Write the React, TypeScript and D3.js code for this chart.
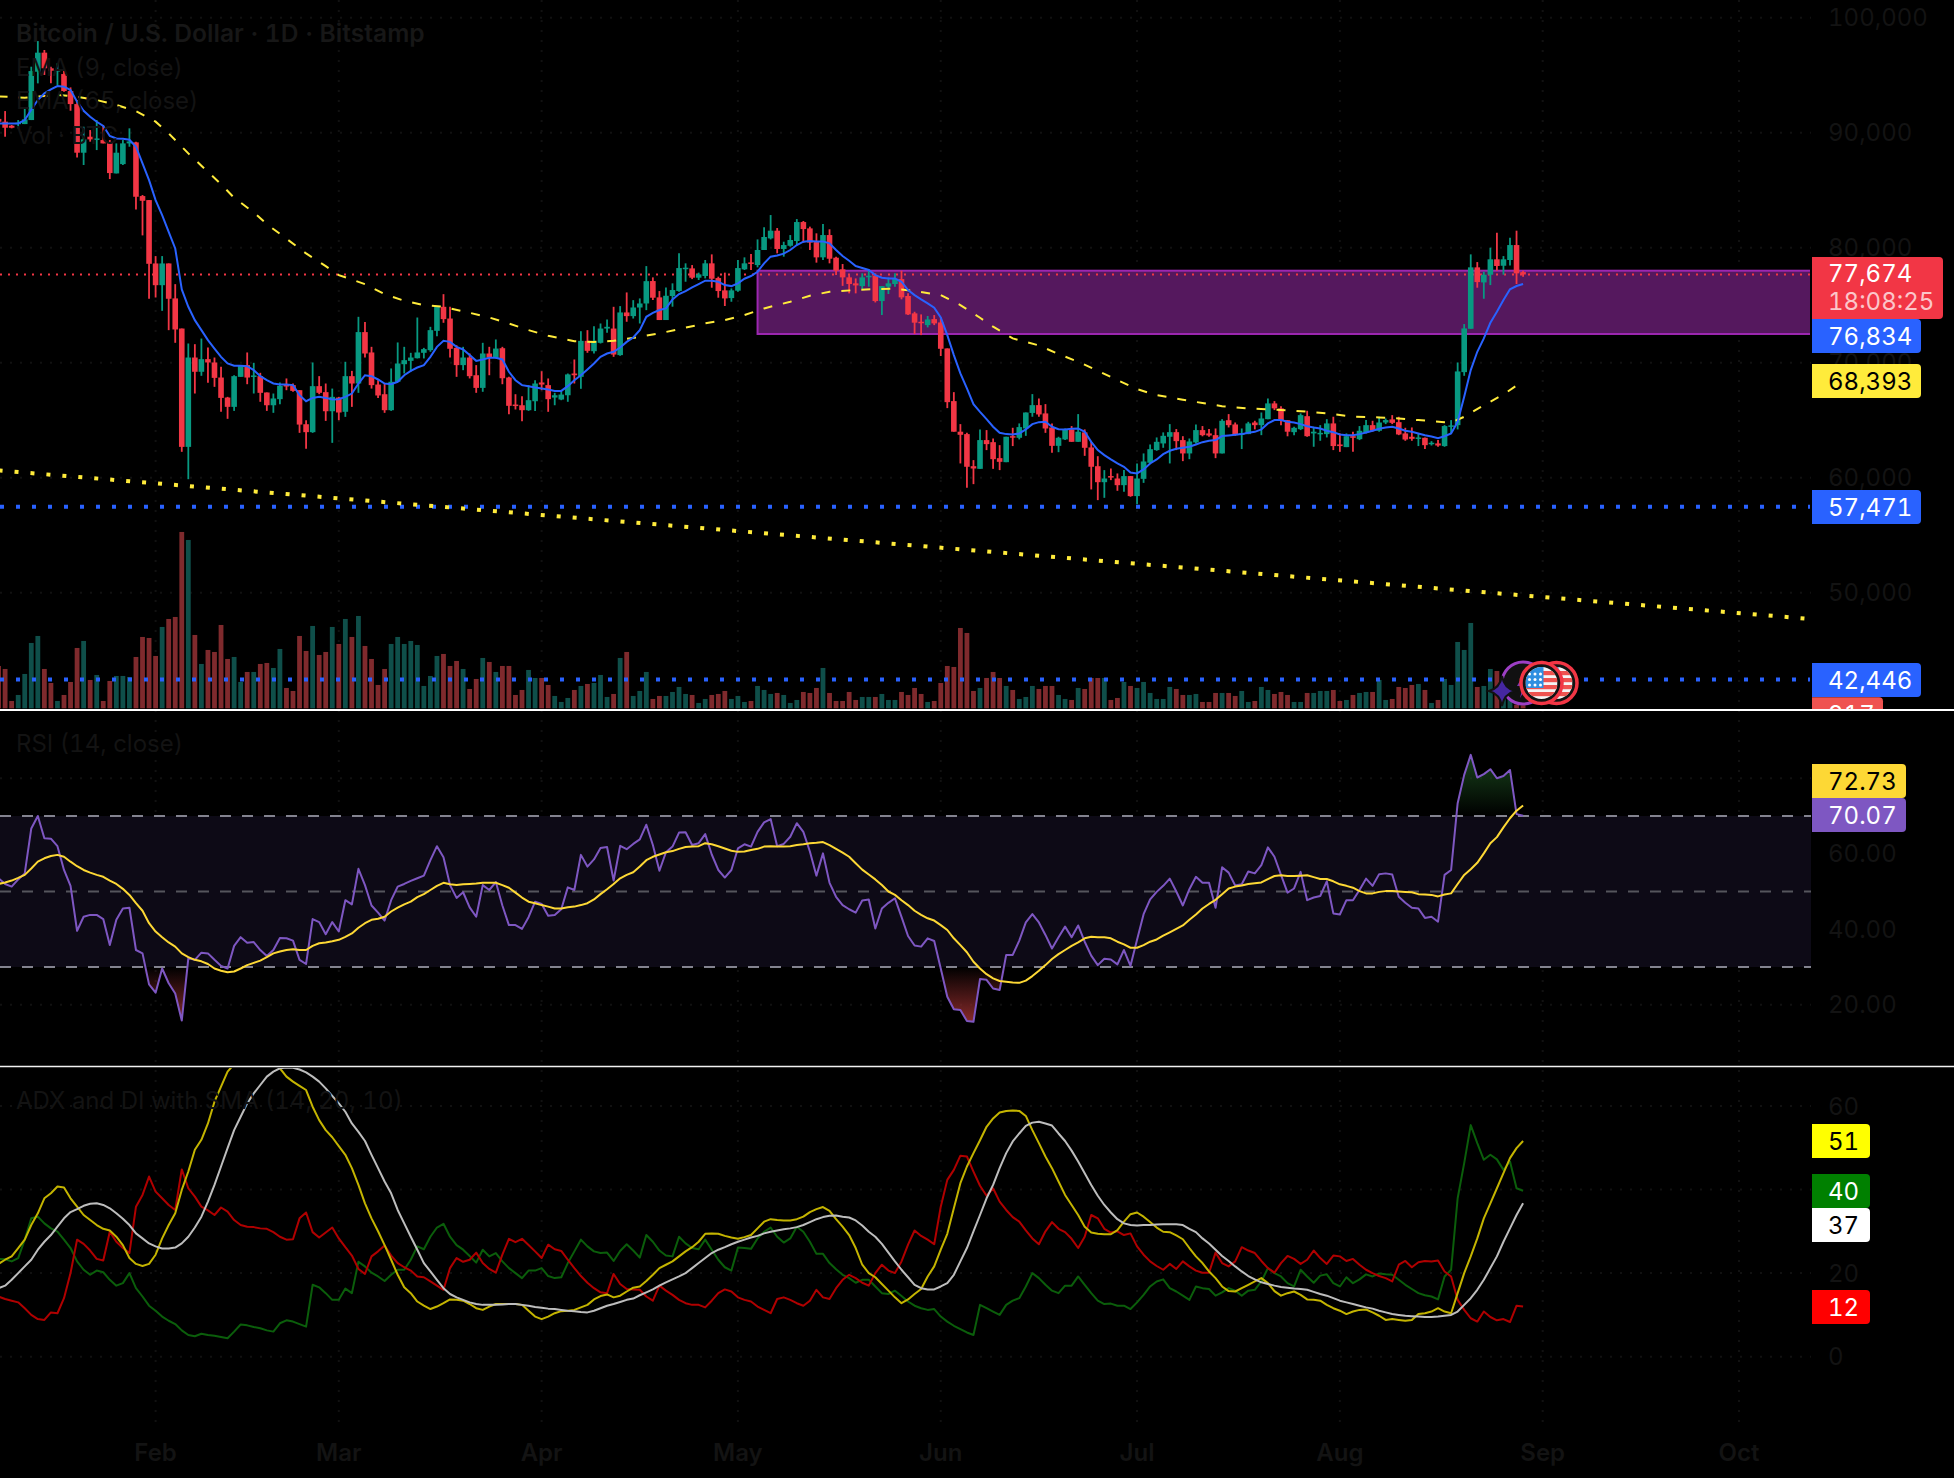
import React, { useEffect } from "react";
import * as d3 from "d3";

// Day index 0 = 1 Feb; first bar is day -24. Prices in thousands of USD, tuples are open, high, low, close.
const FIRST_DAY = -24;
const candlesJan: number[][] = [
  [91.2,91.6,90.4,90.95],[90.96,91.88,89.65,90.43],[90.61,90.67,90.38,90.43],[90.75,91.10,90.38,90.87],[90.75,92.12,90.75,91.16],[91.10,95.74,91.10,95.36],[95.30,97.97,94.29,96.96],[96.96,97.19,95.02,95.60],
  [95.60,95.74,94.29,95.39],[95.36,96.03,94.15,95.45],[95.10,95.45,93.57,93.62],[93.62,93.94,91.91,92.49],[92.49,92.84,87.85,88.26],[88.26,90.52,87.19,89.42],[89.65,90.23,89.22,89.42],[89.42,91.10,88.49,89.50],
  [89.36,90.66,89.07,89.07],[89.13,89.36,85.97,86.49],[86.46,89.07,86.46,88.26],[87.27,89.36,87.19,89.07],[89.07,90.38,88.78,89.24],[89.16,89.22,83.33,84.43],[84.49,84.58,81.07,84.08],[84.14,84.14,75.56,78.60],
];
const candlesFeb: number[][] = [
  [78.63,79.27,75.67,76.74],[76.74,79.27,74.51,78.63],[78.63,78.63,72.83,75.56],[75.59,76.83,71.73,72.89],[72.97,72.97,62.25,62.68],[62.68,71.67,59.87,70.45],[70.45,71.61,67.32,69.21],
  [69.21,72.10,68.86,70.31],[70.31,71.32,68.25,70.02],[70.02,70.45,67.90,68.68],[68.71,69.64,65.73,66.94],[66.97,67.03,65.12,66.16],[66.16,68.91,65.81,68.83],[68.77,69.79,68.77,69.79],
  [69.79,70.89,68.13,68.71],[68.80,69.99,67.32,68.89],[68.83,69.12,66.60,67.38],[67.41,67.41,65.81,66.30],[66.30,67.32,65.64,66.89],[66.83,68.28,66.39,67.99],[68.10,68.63,67.61,67.93],
  [68.05,68.19,67.47,67.55],[67.61,67.61,63.90,64.62],[64.65,65.00,62.51,63.96],[63.96,70.02,63.90,67.96],[67.96,68.83,67.26,67.38],[67.44,68.19,64.94,65.78],[65.78,67.75,63.03,67.03],
];
const candlesMar: number[][] = [
  [66.97,67.03,65.00,65.67],[65.73,70.08,65.29,68.83],[68.83,69.29,66.16,68.19],[68.19,73.99,67.38,72.66],[72.66,73.53,70.45,70.80],[70.89,71.38,67.75,68.05],[68.10,68.48,66.94,67.15],[67.26,68.19,65.64,65.87],
  [65.87,69.50,65.81,68.34],[68.34,71.76,68.34,69.93],[69.87,71.38,69.06,70.22],[70.16,70.86,69.21,70.45],[70.39,73.93,70.37,70.89],[70.86,71.29,70.37,71.18],[71.09,73.12,70.95,72.83],[72.77,74.92,72.31,74.86],
  [74.86,75.96,73.47,73.79],[73.84,74.86,70.45,71.21],[71.29,71.52,68.77,69.79],[69.79,71.38,69.35,70.45],[70.45,70.80,68.63,68.83],[68.91,69.79,67.38,67.81],[67.81,71.73,67.47,70.80],[70.80,71.38,68.91,70.45],
  [70.42,72.02,70.37,71.23],[71.26,71.38,68.13,68.65],[68.71,68.77,65.52,66.25],[66.36,67.26,65.93,66.25],[66.30,67.09,64.91,65.87],[65.87,68.05,65.81,66.74],[66.65,68.48,65.81,68.19],
];
const candlesApr: number[][] = [
  [68.28,69.26,67.61,68.10],[68.05,68.63,65.73,66.83],[66.97,67.38,66.30,67.17],[66.80,67.61,66.74,67.23],[67.17,69.06,66.60,68.98],[69.06,70.28,68.19,68.91],[68.77,72.74,67.73,71.90],[71.90,72.83,70.86,71.03],
  [71.00,73.18,70.80,71.90],[71.73,73.41,71.67,72.97],[72.97,73.76,72.60,73.12],[72.97,74.86,70.51,70.71],[70.66,74.92,70.60,74.37],[74.37,76.11,73.56,74.05],[74.05,75.44,73.84,74.80],[74.80,75.59,73.41,75.15],
  [75.15,78.40,74.57,77.09],[77.10,77.42,75.45,75.65],[75.68,76.23,73.71,73.71],[73.71,76.55,73.71,75.82],[75.80,76.90,74.87,76.32],[76.23,79.51,76.17,78.23],[78.20,78.64,77.04,78.26],[78.20,78.49,77.27,77.39],
  [77.39,77.83,77.19,77.68],[77.54,78.93,77.33,78.64],[78.64,79.42,76.52,77.30],[77.36,77.48,75.65,76.23],[76.29,77.83,74.93,75.59],[75.62,76.46,75.30,76.29],
];
const candlesMay: number[][] = [
  [76.26,78.93,76.17,78.23],[78.12,79.16,78.06,78.64],[78.72,79.45,78.06,78.64],[78.49,80.72,78.29,79.80],[79.80,81.77,79.80,80.93],[80.81,82.84,80.72,81.48],[81.48,81.71,79.51,79.89],[79.89,80.52,79.22,80.23],
  [80.17,81.10,80.09,80.67],[80.58,82.49,80.23,82.23],[82.23,82.32,80.44,81.62],[81.68,81.83,79.80,80.44],[80.49,81.25,78.70,79.16],[79.16,82.06,78.93,81.10],[81.10,81.60,78.64,79.04],[79.13,79.22,77.62,78.00],
  [78.12,78.58,76.68,77.42],[77.42,77.62,76.03,76.84],[76.90,77.33,76.03,76.72],[76.66,77.77,76.40,77.42],[77.45,78.12,76.61,77.56],[77.56,77.77,75.24,75.36],[75.36,76.66,74.15,76.66],[76.61,77.42,75.97,76.90],
  [76.84,77.77,76.61,77.27],[77.27,78.00,75.51,75.68],[75.80,76.03,74.14,74.20],[74.29,74.43,72.49,73.48],[73.56,74.20,72.40,73.48],[73.27,74.06,73.07,73.76],[73.79,74.14,73.27,73.42],
];
const candlesJun: number[][] = [
  [73.50,73.94,70.58,71.21],[71.24,71.24,66.05,66.57],[66.66,67.44,64.00,64.00],[64.00,64.66,61.24,63.73],[63.79,63.90,59.12,60.95],[61.00,61.53,59.44,60.80],[60.77,64.19,60.77,63.27],[63.27,64.14,62.40,62.92],
  [63.09,63.41,60.77,61.61],[61.70,62.83,60.66,61.38],[61.35,63.56,61.35,63.56],[63.61,64.34,62.75,63.50],[63.47,64.72,63.33,64.40],[64.28,65.67,63.64,65.67],[65.63,67.27,65.30,66.31],[66.31,66.89,65.30,65.50],
  [65.59,66.40,63.90,64.28],[64.37,64.72,62.17,62.77],[62.77,63.56,62.22,63.47],[63.33,64.28,63.27,64.20],[64.20,64.49,63.12,63.12],[63.12,65.53,63.12,64.00],[63.94,64.20,61.90,62.60],[62.63,63.12,58.98,60.95],
  [61.00,61.87,58.05,59.61],[59.61,60.66,58.25,59.93],[60.14,60.80,59.79,60.02],[59.93,60.37,58.86,59.35],[59.35,60.66,58.77,60.14],[60.14,60.14,58.34,58.40],
];
const candlesJul: number[][] = [
  [58.40,61.24,57.70,59.93],[59.90,62.11,59.55,61.41],[61.30,62.89,61.18,62.48],[62.40,63.50,62.34,63.12],[62.98,63.94,62.60,63.64],[63.56,64.66,61.24,63.96],[63.96,64.23,62.40,63.18],[63.27,63.61,61.44,62.11],
  [62.11,63.41,61.61,63.15],[63.07,64.63,62.98,64.14],[64.14,64.49,63.60,63.70],[63.85,64.23,63.56,63.67],[63.70,64.28,61.70,62.11],[62.11,65.09,62.11,64.95],[65.00,65.53,64.37,64.57],[64.63,64.80,63.65,63.70],
  [63.79,64.28,62.49,63.85],[63.79,64.86,63.79,64.72],[64.80,64.95,64.20,64.57],[64.57,65.67,63.70,65.15],[65.09,66.89,65.09,66.46],[66.46,66.66,65.88,66.03],[66.03,66.22,64.57,64.95],[65.00,65.00,63.60,64.00],
  [63.96,64.43,63.70,64.34],[64.22,65.59,64.14,65.44],[65.35,65.82,63.56,63.61],[63.85,64.43,62.69,64.00],[63.85,64.57,63.21,63.90],[63.79,65.09,63.50,64.72],[64.72,65.30,62.40,62.75],
];
const candlesAug: number[][] = [
  [62.89,63.85,62.25,62.75],[62.66,63.85,62.66,63.61],[63.61,64.00,62.25,63.47],[63.35,64.49,63.27,64.08],[63.93,65.01,63.85,64.57],[64.57,64.95,64.00,64.08],[64.08,65.30,64.00,64.80],[64.80,65.15,64.66,65.01],
  [65.07,65.44,64.66,64.77],[64.83,65.30,63.70,63.76],[63.85,64.34,63.21,63.32],[63.56,64.37,63.21,63.38],[63.41,63.85,62.75,63.50],[63.47,63.50,62.49,62.83],[62.92,63.18,62.80,63.04],[62.98,63.27,62.69,62.80],
  [62.75,64.57,62.69,64.49],[64.43,65.01,63.85,64.55],[64.57,70.02,64.20,69.24],[69.18,73.36,68.86,72.98],[72.95,79.42,72.95,78.29],[78.29,78.75,76.52,77.01],[76.98,77.91,75.56,77.65],[77.65,80.00,76.75,78.99],
  [78.99,81.30,78.00,78.41],[78.43,79.27,77.65,78.99],[78.93,80.87,78.46,80.23],[80.23,81.48,76.84,77.77],[77.88,78.00,77.48,77.67],
];
// Volume in hundreds of BTC
const volumes = [127,118,22,40,103,196,217,118,76,22,40,79,181,202,85,100,22,82,97,97,94,154,214,211,
  157,244,268,274,529,505,220,133,175,169,250,148,154,79,109,109,133,136,121,178,61,52,217,172,247,160,169,244,
  193,268,214,277,187,148,70,118,193,214,193,202,190,67,97,157,163,127,142,118,58,88,151,139,109,127,127,40,55,115,91,
  91,70,37,19,31,55,67,73,76,100,34,43,151,169,37,52,109,28,37,37,49,64,43,40,16,28,40,43,52,28,
  37,19,22,67,55,43,46,40,16,25,49,46,61,121,46,22,22,49,25,34,34,34,43,25,25,49,40,61,43,19,22,
  76,127,124,241,226,52,61,91,109,91,67,55,28,34,67,58,67,67,40,28,25,61,58,91,91,91,25,31,79,67,
  61,79,46,28,28,64,58,40,40,43,19,19,46,46,46,37,52,19,22,64,55,43,49,40,19,19,46,46,52,52,55,
  22,25,40,46,49,49,85,25,28,64,61,70,73,55,16,25,88,70,199,175,256,64,67,118,112,70,35,11,9.17];
const ema9 = [90.81,90.80,90.80,90.81,91.10,92.0,92.84,93.42,93.77,94.06,94.0,93.71,92.7,91.91,91.39,90.95,90.58,89.71,89.5,89.48,89.39,88.78,87.33,85.88,
  84.14,82.83,81.38,79.93,76.37,74.86,73.70,72.83,71.96,71.23,70.51,69.93,69.73,69.73,69.70,69.35,68.83,68.48,68.19,68.10,68.10,68.05,67.18,66.65,66.94,67.03,66.94,66.80,
  66.83,67.03,67.32,68.19,68.91,68.83,68.54,68.19,68.13,68.34,68.91,69.29,69.58,69.79,70.51,71.38,71.90,71.81,71.38,71.15,70.66,70.16,70.28,70.42,70.42,70.28,69.21,68.48,68.05,67.96,67.84,
  67.75,67.67,67.55,67.55,67.96,68.48,68.91,69.41,69.93,70.51,70.80,70.95,71.32,71.81,72.19,72.83,73.99,74.34,74.58,74.72,75.5,75.97,76.23,76.55,76.84,77.13,77.13,77.04,76.75,76.66,
  76.90,77.30,77.54,77.91,78.64,79.22,79.33,79.48,79.80,80.23,80.52,80.58,80.55,80.55,80.38,79.80,79.27,78.87,78.41,78.23,78.06,77.62,77.39,77.33,77.33,77.04,76.32,75.88,75.5,75.16,74.78,
  73.94,72.40,70.66,69.07,67.76,66.40,65.73,65.09,64.43,63.90,63.79,63.76,63.85,64.20,64.66,64.83,64.86,64.43,64.22,64.20,64.25,64.28,63.99,63.12,62.40,61.96,61.59,61.24,60.95,60.45,
  60.37,60.72,61.24,61.59,62.05,62.34,62.51,62.60,62.69,62.89,63.09,63.21,63.27,63.62,63.67,63.73,63.79,63.90,63.99,64.20,64.72,65.01,65.01,64.86,64.80,64.66,64.48,64.37,64.28,64.08,63.96,
  63.76,63.70,63.70,63.79,63.93,64.08,64.25,64.37,64.43,64.28,64.08,64.00,63.85,63.70,63.59,63.44,63.61,63.85,64.86,67.04,69.36,70.95,72.11,73.47,74.43,75.45,76.38,76.67,76.84];
const ema65Days = [-24,-20,-17,-15,-12,-9,-6,-3,0,2,5,7,10,12,15,17,20,23,26,28,32,35,38,41,44,48,51,54,57,60,64,67,70,74,77,80,84,87,90,93,97,100,103,107,110,113,116,120,123,126,128,131,135,138,141,144,147,150,153,157,160,163,167,170,174,177,180,183,187,190,193,197,198,200,203,206,209];
const ema65 = [93.16,93.04,93.19,93.28,93.13,92.84,92.41,91.88,90.96,89.94,88.2,87.13,85.53,84.34,83.07,82.05,80.78,79.50,78.40,77.62,76.83,75.96,75.38,75.0,74.86,74.34,73.93,73.41,72.83,72.34,71.87,71.81,71.90,72.25,72.55,72.92,73.42,73.71,74.14,74.72,75.3,75.82,76.17,76.32,76.40,76.43,76.23,75.88,75.01,73.91,73.13,72.11,71.5,70.75,70.08,69.3,68.49,67.7,67.18,66.78,66.49,66.22,66.02,65.94,65.82,65.70,65.53,65.30,65.24,65.15,65.01,64.83,64.78,65.30,66.3,67.24,68.40];
const trendDays = [-24, 252];
const trendPrices = [60.63, 47.76];
const supportLevels = [57.471, 42.446];
const lastPrice = 77.674;
const zoneTop = 78.0;
const zoneBottom = 72.496;
const zoneStartDay = 92;
const rsi = [53.5,52.0,51.3,53.2,54.8,66.7,70.0,64.1,64.0,62.0,55.7,51.5,39.6,43.3,43.8,43.8,42.7,35.8,42.5,45.5,45.7,34.5,33.6,25.4,
  23.2,29.6,25.7,23.0,15.8,32.3,31.9,33.8,33.6,31.9,30.3,29.6,35.6,37.9,36.4,36.6,34.5,32.9,34.5,37.7,37.6,37.0,31.9,30.8,42.7,41.9,38.7,41.9,
  39.4,47.7,46.6,56.0,51.7,46.3,44.4,42.3,47.7,51.3,52.0,52.8,53.5,54.2,58.3,62.0,59.1,51.7,48.3,49.8,45.8,43.3,51.7,50.4,52.5,46.3,41.1,41.1,40.1,43.2,47.3,
  46.7,43.6,43.8,45.3,51.1,50.4,59.7,56.6,58.5,61.5,61.8,52.9,62.1,61.2,62.6,63.8,67.7,62.3,55.5,60.4,61.9,65.6,65.7,62.3,62.8,65.2,59.8,55.7,53.7,55.7,
  61.4,62.5,61.9,65.8,68.3,69.2,62.0,62.6,64.5,68.1,65.8,60.6,54.2,60.1,52.3,48.6,46.4,45.3,44.4,47.6,47.9,40.2,45.5,47.0,48.2,43.3,38.2,35.7,35.4,37.6,36.9,
  29.6,22.1,18.8,18.6,15.7,15.5,26.8,26.6,24.3,23.9,33.2,33.2,37.0,41.8,44.0,41.8,38.5,34.9,37.9,40.7,37.9,41.0,36.7,33.0,30.5,32.2,32.0,30.7,34.5,30.3,
  37.2,44.0,47.9,49.9,51.5,53.4,50.0,46.3,50.6,53.9,52.3,52.3,45.7,56.4,55.0,51.6,51.9,55.3,54.8,57.0,61.7,59.2,54.4,49.7,50.8,55.2,47.7,48.4,48.8,52.7,44.2,
  43.9,47.7,47.7,50.4,53.4,51.5,54.6,54.8,54.5,48.6,47.0,45.7,45.5,43.0,43.3,42.0,54.4,55.7,73.4,80.9,86.2,80.2,81.1,82.4,80.0,80.6,82.2,70.5,70.07];
const rsiMa = [52.0,52.4,52.9,53.6,54.4,56.1,57.9,58.8,59.4,59.7,59.2,57.9,56.7,55.7,55.0,54.4,53.9,52.9,52.0,50.7,49.1,46.9,44.9,41.6,
  39.4,37.9,36.5,35.4,33.6,32.6,31.9,31.5,30.8,29.6,29.0,28.6,28.8,29.6,30.5,31.1,31.7,32.6,33.6,34.1,34.5,34.7,34.5,34.5,35.6,36.3,36.5,36.8,
  37.2,38.0,38.9,40.4,41.6,42.5,42.8,43.3,44.7,45.7,46.6,47.3,48.5,49.3,50.4,51.5,52.3,51.9,51.7,51.9,52.0,52.1,52.3,52.3,52.3,51.7,51.0,49.7,48.4,47.3,46.9,
  46.4,46.0,45.5,45.5,45.8,46.0,46.4,46.9,47.9,49.3,50.6,52.0,53.5,54.4,55.1,56.6,58.3,59.2,59.8,60.4,60.7,61.3,61.8,61.9,62.0,62.8,62.5,62.0,61.4,60.8,
  60.5,60.6,61.0,61.3,61.9,62.0,61.9,61.9,62.0,62.3,62.5,62.8,62.9,63.1,62.3,61.3,60.3,59.2,57.5,55.8,54.5,53.2,51.7,50.0,49.1,47.7,46.4,44.9,43.8,42.9,42.3,
  41.1,39.8,37.6,35.8,33.9,31.4,29.6,28.1,27.0,26.3,26.1,25.9,25.8,26.4,27.6,29.0,30.5,32.1,33.4,34.5,35.6,36.5,37.6,38.0,37.9,37.9,37.6,36.7,36.0,35.1,
  35.1,35.8,36.7,37.3,38.3,39.2,40.1,41.0,42.5,43.9,45.5,46.7,47.8,49.3,50.8,51.3,51.6,52.0,52.2,52.4,53.3,54.1,54.3,54.1,54.1,54.2,54.3,53.8,53.3,53.3,52.7,
  51.9,51.5,51.0,50.1,49.5,49.5,49.9,50.1,50.1,50.0,49.9,49.8,49.3,49.2,49.1,48.7,49.2,49.5,52.0,54.4,55.9,57.6,60.1,62.8,64.4,67.0,69.4,71.4,72.8];
const diPlus = [23.4,23.3,22.8,23.6,28.0,33.1,33.5,31.9,30.7,29.9,28.0,26.0,22.8,20.8,19.6,20.6,20.2,18.4,17.0,17.6,20.0,16.4,14.4,12.2,
  11.0,9.6,8.6,7.8,6.3,5.2,4.9,5.5,5.2,5.0,4.7,4.4,6.0,7.7,7.5,7.1,6.8,6.3,6.0,8.0,8.7,8.4,7.8,7.2,17.2,16.6,15.2,13.6,
  13.6,16.3,15.2,22.7,21.6,20.1,19.2,18.1,19.6,20.8,20.8,23.2,26.4,25.7,28.7,30.9,31.8,28.7,26.7,25.6,24.1,22.5,25.6,24.0,24.8,22.8,21.2,20.0,18.8,20.6,20.6,
  21.2,19.3,18.8,19.0,22.4,25.2,28.0,26.4,25.2,24.8,24.9,22.9,25.3,26.9,25.4,23.7,29.1,27.5,25.4,24.2,24.0,28.7,27.1,26.0,25.7,28.0,25.6,23.2,21.4,20.6,
  26.1,26.0,25.8,28.3,29.9,30.9,28.7,27.3,28.3,31.1,29.9,27.5,24.6,24.6,22.4,20.9,19.6,18.8,17.7,18.4,18.4,16.8,15.2,15.0,15.8,14.5,13.2,12.2,11.6,11.2,11.4,
  9.6,8.4,7.4,6.6,5.8,5.2,12.4,11.6,10.8,10.0,12.4,13.4,14.0,16.8,20.0,18.8,17.2,15.8,15.2,17.0,17.0,19.2,17.2,15.2,13.4,12.6,12.7,12.2,12.2,11.4,
  13.0,14.8,16.8,18.0,18.5,16.4,15.6,14.6,13.6,16.8,16.4,16.2,14.6,15.4,16.4,15.8,14.6,15.8,16.0,18.0,21.2,20.0,19.2,17.6,16.8,20.8,19.2,17.7,19.4,19.7,17.6,
  16.8,19.0,17.6,18.5,19.7,19.2,19.9,19.7,19.6,18.4,17.2,16.2,15.2,14.7,14.4,13.7,19.2,20.8,37.9,46.3,55.4,51.1,47.1,48.3,47.2,44.7,46.7,40.3,39.7];
const diMinus = [14.4,13.8,13.4,13.0,11.6,10.0,9.0,8.8,10.6,10.4,14.0,20.0,28.0,27.0,25.4,23.4,23.0,29.9,27.5,26.0,24.8,35.9,38.7,43.1,
  39.5,37.9,36.3,35.1,44.8,40.3,38.3,35.9,35.0,33.9,35.7,34.7,32.7,31.5,31.1,31.0,30.7,30.6,29.8,28.7,28.0,28.1,33.1,34.5,29.8,28.5,29.7,30.9,
  28.3,26.2,24.2,21.0,19.8,24.0,25.2,26.6,24.2,22.4,21.4,20.6,19.2,19.0,18.0,17.0,16.0,21.2,23.6,22.7,23.2,24.9,22.4,21.0,20.1,24.4,28.2,27.4,28.2,26.7,25.2,
  23.6,26.8,25.7,25.3,23.2,21.2,19.3,17.7,16.4,15.4,15.2,19.8,17.4,16.2,16.1,16.0,14.4,13.4,17.0,15.8,14.8,13.6,12.8,12.4,12.4,11.8,13.4,15.2,16.1,15.6,
  14.2,13.6,13.2,12.0,11.2,10.4,13.8,14.2,13.6,12.8,12.2,13.4,16.0,14.2,13.8,16.4,18.4,19.6,18.8,17.7,17.0,20.0,22.0,20.6,20.0,22.8,26.8,30.2,28.9,28.0,26.9,
  35.9,42.3,44.7,48.1,47.9,44.3,40.9,38.5,40.3,37.1,35.1,33.4,32.3,30.2,28.3,26.9,30.0,32.2,30.6,29.8,28.2,26.0,28.7,33.9,33.1,30.6,29.7,30.0,29.1,29.5,
  26.4,24.4,22.8,21.7,20.8,22.2,21.0,22.8,21.6,20.6,20.1,20.1,24.9,22.4,21.6,22.8,26.2,25.4,24.8,22.9,21.2,20.1,22.4,24.1,23.4,22.2,23.2,25.4,23.6,22.2,24.2,
  24.0,22.9,23.4,22.0,20.8,20.0,19.3,18.8,18.0,22.0,22.9,21.4,22.6,22.9,22.8,23.0,20.4,19.2,13.6,11.2,9.2,8.4,10.8,9.5,8.7,9.0,8.3,12.2,12.0];
const adx = [22.2,23.2,24.0,26.0,28.0,31.5,34.3,37.9,39.1,40.7,40.5,37.9,35.9,33.9,32.7,31.5,30.6,30.2,28.7,26.7,23.6,22.2,21.7,22.2,
  24.4,28.3,31.5,34.3,39.9,44.3,49.5,51.9,55.8,61.0,64.6,68.2,70,72.5,74,75,75,74,71.5,69.0,67.0,65.8,64.8,63.8,59.8,56.6,54.2,52.5,
  50.4,48.3,45.1,41.1,36.7,33.1,30.0,26.7,23.2,19.6,16.6,15.2,13.2,12.2,11.4,12.0,12.8,13.7,13.6,13.4,12.6,11.6,11.2,12.0,12.6,12.6,12.6,12.6,12.4,11.0,9.6,
  9.0,9.6,10.4,10.9,11.0,11.2,11.8,12.4,13.7,14.5,14.9,14.2,14.6,15.6,16.5,16.8,18.1,19.6,21.2,22.0,22.8,24.0,25.2,26.2,27.5,29.4,29.5,29.4,28.9,28.5,
  28.2,28.6,29.1,30.7,32.3,32.9,32.7,32.6,32.6,32.9,33.5,34.6,35.3,35.8,34.9,32.9,31.1,29.1,26.0,22.0,20.0,19.0,17.4,15.8,14.2,12.8,13.7,15.0,16.2,19.2,21.6,
  25.6,29.4,35.5,41.5,45.5,48.7,51.8,55.0,57.0,58.4,58.8,58.9,58.8,57.6,54.2,51.1,47.9,45.1,41.9,38.7,36.3,33.9,31.1,29.7,29.4,29.3,29.3,30.3,32.3,34.1,
  34.5,33.5,32.2,30.9,29.9,29.8,29.0,28.1,26.0,24.0,22.4,20.4,18.8,16.8,15.7,15.6,16.4,17.2,18.0,18.8,17.6,15.7,14.6,15.2,15.6,14.8,13.7,13.6,13.4,12.4,11.6,
  11.0,10.2,10.8,11.2,11.3,10.6,9.8,8.8,9.0,8.8,8.6,8.8,10.2,10.4,10.8,11.6,10.8,10.4,15.2,20.0,24.0,28.3,33.1,36.7,40.3,43.9,47.5,49.9,51.6];
const adxSma = [16.4,17.0,18.4,20.0,21.6,23.2,25.6,27.5,29.1,31.1,33.1,34.6,35.3,36.1,36.6,36.7,36.3,35.5,34.3,33.0,31.5,29.5,28.3,27.1,
  26.4,25.9,25.9,26.1,27.1,28.7,30.9,33.5,37.1,41.1,45.5,49.9,54.2,57.4,60.6,63.0,65.0,67.0,68.2,69.0,69.2,69.1,68.7,68.0,67.0,65.8,64.2,62.4,
  60.6,58.6,55.8,53.8,51.6,48.3,45.1,41.9,39.1,35.1,31.9,28.7,25.6,22.4,20.4,18.4,16.4,15.0,14.2,13.6,13.0,12.6,12.4,12.4,12.4,12.5,12.6,12.6,12.4,12.2,11.9,
  11.7,11.5,11.4,11.2,11.0,10.9,10.7,10.6,11.0,11.6,12.2,12.6,13.1,13.6,13.9,14.7,15.4,16.1,17.0,17.8,18.5,19.2,20.0,21.2,22.4,23.6,24.8,25.6,26.2,26.9,
  27.5,28.0,28.5,28.9,29.5,29.9,30.2,30.5,30.7,31.0,31.5,32.2,32.9,33.4,33.7,33.8,33.5,33.3,32.6,31.4,29.9,28.7,27.0,24.9,22.8,20.8,19.0,17.2,16.4,16.1,16.1,
  16.8,17.6,19.6,22.8,26.0,30.0,33.9,37.9,41.1,45.1,48.7,51.5,53.4,55.2,56.0,56.2,55.8,55.3,53.4,51.6,49.3,46.7,43.9,41.1,38.5,36.3,34.5,32.9,31.9,31.5,
  31.4,31.5,31.5,31.6,31.7,31.7,31.7,31.5,30.6,29.8,28.3,27.1,25.6,24.1,22.9,21.6,20.4,19.3,18.5,17.8,17.4,17.0,16.7,16.5,16.3,16.2,16.0,15.5,15.0,14.6,14.0,
  13.4,13.0,12.6,12.2,11.8,11.5,11.0,10.6,10.2,10.0,9.8,9.7,9.6,9.5,9.5,9.6,9.8,10.0,10.8,12.4,14.0,16.0,18.4,21.2,24.0,27.5,30.7,33.9,36.7];
const monthTicks: [string, number][] = [["Feb",0],["Mar",28],["Apr",59],["May",89],["Jun",120],["Jul",150],["Aug",181],["Sep",212],["Oct",242]];
const priceTicks = [100, 90, 80, 70, 60, 50];
const rsiTicks = [80, 60, 40, 20];
const adxTicks = [60, 40, 20, 0];

const W = 1954, H = 1478, PANE_R = 1811;
const candles = [...candlesJan, ...candlesFeb, ...candlesMar, ...candlesApr, ...candlesMay, ...candlesJun, ...candlesJul, ...candlesAug];
const x = d3.scaleLinear().domain([0, 242]).range([155.6, 1739]);
const yP = d3.scaleLinear().domain([50, 100]).range([592.7, 17.7]);
const yV = d3.scaleLinear().domain([0, 600]).range([708.3, 508.3]);
const yR = d3.scaleLinear().domain([30, 70]).range([967, 816]);
const yA = d3.scaleLinear().domain([0, 60]).range([1356.7, 1105.9]);
const dayOf = (i: number) => i + FIRST_DAY;
const series = (vals: number[], y: (v: number) => number) =>
  d3.line<number>().x((_, i) => x(dayOf(i))).y((v) => y(v))(vals) || "";
const keyed = (days: number[], vals: number[], y: (v: number) => number) =>
  d3.line<number>().x((d) => x(d)).y((_, i) => y(vals[i]))(days) || "";
const rsiAbove = d3.area<number>().x((_, i) => x(dayOf(i))).y0(yR(70)).y1((v) => yR(Math.max(v, 70)))(rsi) || "";
const rsiBelow = d3.area<number>().x((_, i) => x(dayOf(i))).y0(yR(30)).y1((v) => yR(Math.min(v, 30)))(rsi) || "";

const UP = "#089981", DOWN = "#f23645";
const AXIS_FONT = "Inter, 'Noto Sans', sans-serif";
const DIM = "#131313";
const TNUM: React.CSSProperties = { fontVariantNumeric: "tabular-nums", fontFeatureSettings: "'tnum' 1" };

function Tag({ y0, y1, x1, fill, text, color, sub }: { y0: number; y1: number; x1: number; fill: string; text: string; color: string; sub?: string }) {
  const x0 = 1812, r = 4;
  const d = `M${x0},${y0}H${x1 - r}Q${x1},${y0} ${x1},${y0 + r}V${y1 - r}Q${x1},${y1} ${x1 - r},${y1}H${x0}Z`;
  const cy = sub ? y0 + 16 : (y0 + y1) / 2;
  return (
    <g style={TNUM}>
      <path d={d} fill={fill} />
      <text x={1828} y={cy} dy="0.36em" fill={color} fontSize={24} fontFamily={AXIS_FONT}>{text}</text>
      {sub && <text x={1828} y={y0 + 44} dy="0.36em" fill={color} fillOpacity={0.72} fontSize={24} fontFamily={AXIS_FONT}>{sub}</text>}
    </g>
  );
}

function UsFlag({ cx, id }: { cx: number; id: string }) {
  const cy = 683, r = 16;
  const stripes = [-12, -5, 2, 9];
  const stars: number[][] = [];
  for (const sy of [-9, -3.5, 2]) for (const sx of [-12, -6.5, -1]) stars.push([sx, sy]);
  return (
    <g>
      <circle cx={cx} cy={cy} r={20.5} fill="#131313" stroke="#f23645" strokeWidth={3.5} />
      <clipPath id={id}><circle cx={cx} cy={cy} r={r} /></clipPath>
      <g clipPath={`url(#${id})`}>
        <rect x={cx - r} y={cy - r} width={2 * r} height={2 * r} fill="#f5f5f5" />
        {stripes.map((s) => <rect key={s} x={cx - r} y={cy + s} width={2 * r} height={4.2} fill="#ef5350" />)}
        <rect x={cx - r} y={cy - r} width={r + 2} height={r + 5} fill="#2f8fe0" />
        {stars.map(([sx, sy]) => <circle key={`${sx}_${sy}`} cx={cx + sx} cy={cy + sy} r={1.5} fill="#fff" />)}
      </g>
    </g>
  );
}

export default function App() {
  useEffect(() => {
    document.body.style.margin = "0";
    document.body.style.background = "#000";
  }, []);
  const bandW = 5.6;
  return (
    <svg width={W} height={H} viewBox={`0 0 ${W} ${H}`} style={{ display: "block", background: "#000" }}>
      <defs>
        <clipPath id="mainClip"><rect x={0} y={0} width={PANE_R - 1} height={709} /></clipPath>
        <clipPath id="allMain"><rect x={0} y={0} width={W} height={709} /></clipPath>
        <clipPath id="adxClip"><rect x={0} y={1068} width={PANE_R} height={400} /></clipPath>
        <linearGradient id="obGrad" gradientUnits="userSpaceOnUse" x1={0} x2={0} y1={yR(88)} y2={yR(70)}>
          <stop offset="0" stopColor="#1a4a1e" /><stop offset="1" stopColor="#1a4a1e" stopOpacity={0} />
        </linearGradient>
        <linearGradient id="osGrad" gradientUnits="userSpaceOnUse" x1={0} x2={0} y1={yR(30)} y2={yR(15)}>
          <stop offset="0" stopColor="#8c2b2b" stopOpacity={0} /><stop offset="1" stopColor="#8c2b2b" />
        </linearGradient>
      </defs>
      <rect width={W} height={H} fill="#000" />

      {/* grid */}
      <g stroke="#111" strokeWidth={2} strokeDasharray="2 8">
        {monthTicks.map(([m, d]) => <line key={m} x1={x(d)} x2={x(d)} y1={0} y2={1422} />)}
        {priceTicks.map((t) => <line key={t} x1={0} x2={PANE_R} y1={yP(t)} y2={yP(t)} />)}
        {rsiTicks.map((t) => <line key={t} x1={0} x2={PANE_R} y1={yR(t)} y2={yR(t)} />)}
        {adxTicks.map((t) => <line key={t} x1={0} x2={PANE_R} y1={yA(t)} y2={yA(t)} />)}
      </g>

      {/* main pane */}
      <g clipPath="url(#mainClip)">
        <rect x={x(zoneStartDay)} y={yP(zoneTop)} width={PANE_R + 20 - x(zoneStartDay)} height={yP(zoneBottom) - yP(zoneTop)} fill="#55185e" stroke="#9c27b0" strokeWidth={2} />
        {volumes.map((v, i) => {
          const c = candles[i];
          const up = c[3] >= c[0];
          return <rect key={i} x={x(dayOf(i)) - 2.4} y={yV(v)} width={4.8} height={yV(0) - yV(v)} fill={up ? "#0f4f4a" : "#7f2a2d"} />;
        })}
        {supportLevels.map((p) => <line key={p} x1={0} x2={PANE_R - 1} y1={yP(p)} y2={yP(p)} stroke="#2962ff" strokeWidth={4} strokeDasharray="4 12" />)}
        <line x1={x(trendDays[0])} x2={x(trendDays[1])} y1={yP(trendPrices[0])} y2={yP(trendPrices[1])} stroke="#ffeb3b" strokeWidth={4} strokeDasharray="4 12" />
        <line x1={0} x2={PANE_R - 1} y1={yP(lastPrice)} y2={yP(lastPrice)} stroke="#f23645" strokeWidth={2} strokeDasharray="2 6" />
        {candles.map((c, i) => {
          const [o, h, l, cl] = c;
          const up = cl >= o;
          const col = up ? UP : DOWN;
          const cx = x(dayOf(i));
          return (
            <g key={i}>
              <line x1={cx} x2={cx} y1={yP(h)} y2={yP(l)} stroke={col} strokeWidth={1.8} />
              <rect x={cx - bandW / 2} y={yP(Math.max(o, cl))} width={bandW} height={Math.max(1.5, Math.abs(yP(o) - yP(cl)))} fill={col} />
            </g>
          );
        })}
        <path d={keyed(ema65Days, ema65, yP)} fill="none" stroke="#ffeb3b" strokeWidth={2} strokeDasharray="9 11" />
        <path d={series(ema9, yP)} fill="none" stroke="#2962ff" strokeWidth={2} />
      </g>

      {/* event markers */}
      <g clipPath="url(#allMain)">
        <circle cx={1523} cy={683} r={21} fill="#111" stroke="#9c3fc4" strokeWidth={3} />
        <path d="M1526,670 L1517,686 L1523,686 L1520,698 L1530,681 L1524,681 Z" fill="#7b35b0" />
        <path d="M1502,676 Q1504,688 1515,691 Q1504,694 1502,706 Q1500,694 1489,691 Q1500,688 1502,676 Z" fill="#4527a0" stroke="#111" strokeWidth={2} />
        <UsFlag cx={1556.5} id="fb" />
        <UsFlag cx={1541.5} id="fa" />
      </g>

      {/* RSI pane */}
      <rect x={0} y={yR(70)} width={PANE_R} height={yR(30) - yR(70)} fill="#0d0a16" />
      <path d={rsiAbove} fill="url(#obGrad)" />
      <path d={rsiBelow} fill="url(#osGrad)" />
      <line x1={0} x2={PANE_R} y1={yR(70)} y2={yR(70)} stroke="#83838f" strokeWidth={2} strokeDasharray="11 11" />
      <line x1={0} x2={PANE_R} y1={yR(50)} y2={yR(50)} stroke="#55555c" strokeWidth={2} strokeDasharray="11 11" />
      <line x1={0} x2={PANE_R} y1={yR(30)} y2={yR(30)} stroke="#83838f" strokeWidth={2} strokeDasharray="11 11" />
      <path d={series(rsi, yR)} fill="none" stroke="#7e57c2" strokeWidth={2} strokeLinejoin="round" />
      <path d={series(rsiMa, yR)} fill="none" stroke="#fdd835" strokeWidth={2} strokeLinejoin="round" />

      {/* ADX pane */}
      <g clipPath="url(#adxClip)" fill="none" strokeWidth={2} strokeLinejoin="round">
        <path d={series(diPlus, yA)} stroke="#0b5e0b" />
        <path d={series(diMinus, yA)} stroke="#b00000" />
        <path d={series(adx, yA)} stroke="#c4b400" />
        <path d={series(adxSma, yA)} stroke="#bdbdbd" />
      </g>

      {/* separators */}
      <line x1={0} x2={W} y1={710} y2={710} stroke="#fff" strokeWidth={2} />
      <line x1={0} x2={W} y1={1066.5} y2={1066.5} stroke="#f2f2f2" strokeWidth={1.6} />

      {/* legends */}
      <g fill={DIM} fontFamily={AXIS_FONT} fontSize={24} style={TNUM}>
        <text x={16} y={33} dy="0.36em" fontWeight={600} fontSize={24.6} fill="#171717">Bitcoin / U.S. Dollar · 1D · Bitstamp</text>
        <text x={16} y={67} dy="0.36em">EMA (9, close)</text>
        <text x={16} y={100} dy="0.36em">EMA (65, close)</text>
        <text x={16} y={135} dy="0.36em">Vol · BTC</text>
        <text x={16} y={743} dy="0.36em">RSI (14, close)</text>
        <text x={16} y={1100} dy="0.36em">ADX and DI with SMA (14, 20, 10)</text>
      </g>

      {/* axes */}
      <g fill={DIM} fontFamily={AXIS_FONT} fontSize={24} style={TNUM}>
        {priceTicks.map((t) => <text key={t} x={1828} y={yP(t)} dy="0.36em">{d3.format(",")(t * 1000)}</text>)}
        {rsiTicks.map((t) => <text key={t} x={1828} y={yR(t)} dy="0.36em">{t.toFixed(2)}</text>)}
        {adxTicks.map((t) => <text key={t} x={1828} y={yA(t)} dy="0.36em">{t}</text>)}
        {monthTicks.map(([m, d]) => <text key={m} x={x(d)} y={1452} dy="0.36em" textAnchor="middle" fontWeight={600}>{m}</text>)}
      </g>

      {/* value tags */}
      <g clipPath="url(#allMain)">
        <Tag y0={697.3} y1={731} x1={1883} fill="#ef5350" text="917" color="#fff" />
      </g>
      <Tag y0={257} y1={319} x1={1943} fill="#f23645" text="77,674" color="#fff" sub="18:08:25" />
      <Tag y0={319} y1={353} x1={1921} fill="#2962ff" text="76,834" color="#fff" />
      <Tag y0={364} y1={398} x1={1921} fill="#ffeb3b" text="68,393" color="#000" />
      <Tag y0={490} y1={524} x1={1921} fill="#2962ff" text="57,471" color="#fff" />
      <Tag y0={663} y1={697} x1={1921} fill="#2962ff" text="42,446" color="#fff" />
      <Tag y0={764} y1={798} x1={1906} fill="#fdd835" text="72.73" color="#000" />
      <Tag y0={798} y1={832} x1={1906} fill="#7e57c2" text="70.07" color="#fff" />
      <Tag y0={1124} y1={1158} x1={1870} fill="#ffff00" text="51" color="#000" />
      <Tag y0={1174} y1={1208} x1={1870} fill="#008000" text="40" color="#fff" />
      <Tag y0={1208} y1={1242} x1={1870} fill="#ffffff" text="37" color="#000" />
      <Tag y0={1290} y1={1324} x1={1870} fill="#ff0000" text="12" color="#fff" />
    </svg>
  );
}
